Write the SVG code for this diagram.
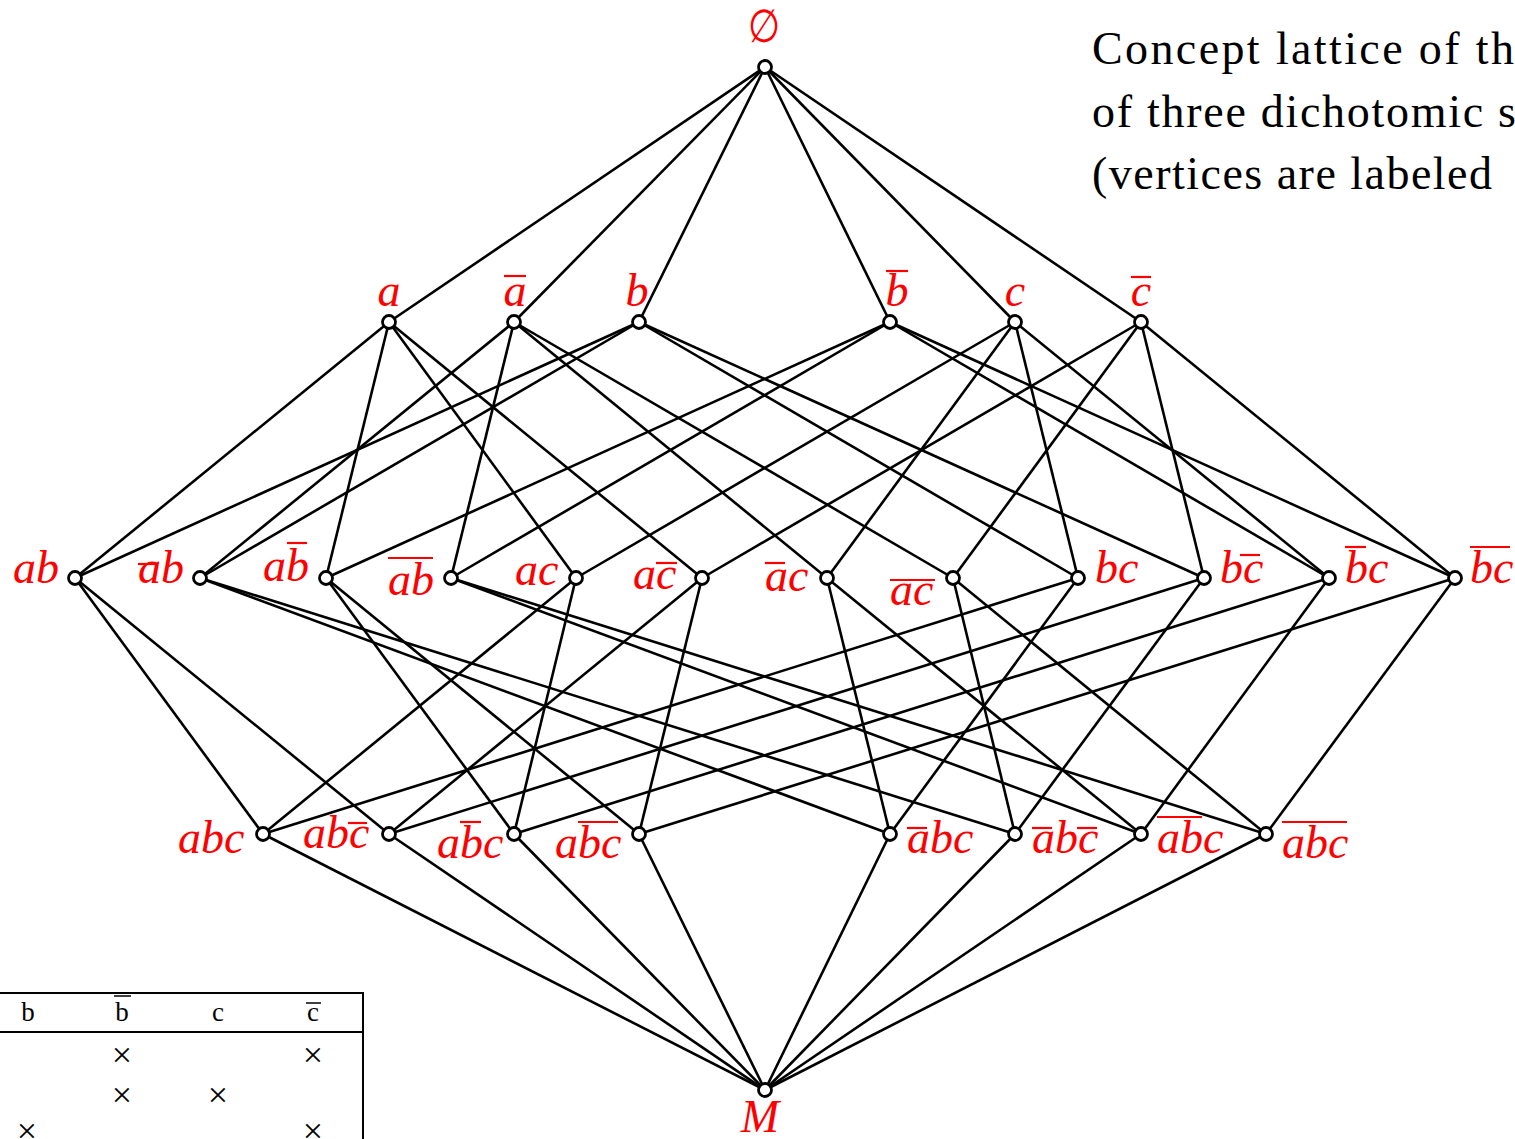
<svg xmlns="http://www.w3.org/2000/svg" width="1515" height="1139" viewBox="0 0 1515 1139">
<style>
.e{stroke:#000;stroke-width:2.6;fill:none}
.n{fill:#fff;stroke:#000;stroke-width:2.8}
.l{font-family:"Liberation Serif",serif;font-style:italic;font-size:46px;fill:#f00}
.ov{stroke:#f00;stroke-width:2.2}
.d{font-family:"Liberation Serif",serif;font-size:46px;fill:#000}
.t{font-family:"Liberation Serif",serif;font-size:27px;fill:#000;text-anchor:middle}
.x{font-family:"Liberation Serif",serif;font-size:36px;fill:#000;text-anchor:middle}
.tl{stroke:#000;stroke-width:2}
.ot{stroke:#000;stroke-width:1.5}
.m{text-anchor:middle}
</style>
<rect width="1515" height="1139" fill="#fff"/>
<g id="connectors" class="e">
<line x1="765" y1="67" x2="389" y2="322"/>
<line x1="765" y1="67" x2="514" y2="322"/>
<line x1="765" y1="67" x2="639" y2="322"/>
<line x1="765" y1="67" x2="890" y2="322"/>
<line x1="765" y1="67" x2="1015" y2="322"/>
<line x1="765" y1="67" x2="1141" y2="322"/>
<line x1="389" y1="322" x2="75" y2="578"/>
<line x1="389" y1="322" x2="326" y2="578"/>
<line x1="389" y1="322" x2="576" y2="578"/>
<line x1="389" y1="322" x2="702" y2="578"/>
<line x1="514" y1="322" x2="200" y2="578"/>
<line x1="514" y1="322" x2="451" y2="578"/>
<line x1="514" y1="322" x2="827" y2="578"/>
<line x1="514" y1="322" x2="953" y2="578"/>
<line x1="639" y1="322" x2="75" y2="578"/>
<line x1="639" y1="322" x2="200" y2="578"/>
<line x1="639" y1="322" x2="1078" y2="578"/>
<line x1="639" y1="322" x2="1204" y2="578"/>
<line x1="890" y1="322" x2="326" y2="578"/>
<line x1="890" y1="322" x2="451" y2="578"/>
<line x1="890" y1="322" x2="1329" y2="578"/>
<line x1="890" y1="322" x2="1455" y2="578"/>
<line x1="1015" y1="322" x2="576" y2="578"/>
<line x1="1015" y1="322" x2="827" y2="578"/>
<line x1="1015" y1="322" x2="1078" y2="578"/>
<line x1="1015" y1="322" x2="1329" y2="578"/>
<line x1="1141" y1="322" x2="702" y2="578"/>
<line x1="1141" y1="322" x2="953" y2="578"/>
<line x1="1141" y1="322" x2="1204" y2="578"/>
<line x1="1141" y1="322" x2="1455" y2="578"/>
<line x1="75" y1="578" x2="263" y2="834"/>
<line x1="75" y1="578" x2="389" y2="834"/>
<line x1="200" y1="578" x2="890" y2="834"/>
<line x1="200" y1="578" x2="1015" y2="834"/>
<line x1="326" y1="578" x2="514" y2="834"/>
<line x1="326" y1="578" x2="639" y2="834"/>
<line x1="451" y1="578" x2="1141" y2="834"/>
<line x1="451" y1="578" x2="1266" y2="834"/>
<line x1="576" y1="578" x2="263" y2="834"/>
<line x1="576" y1="578" x2="514" y2="834"/>
<line x1="702" y1="578" x2="389" y2="834"/>
<line x1="702" y1="578" x2="639" y2="834"/>
<line x1="827" y1="578" x2="890" y2="834"/>
<line x1="827" y1="578" x2="1141" y2="834"/>
<line x1="953" y1="578" x2="1015" y2="834"/>
<line x1="953" y1="578" x2="1266" y2="834"/>
<line x1="1078" y1="578" x2="263" y2="834"/>
<line x1="1078" y1="578" x2="890" y2="834"/>
<line x1="1204" y1="578" x2="389" y2="834"/>
<line x1="1204" y1="578" x2="1015" y2="834"/>
<line x1="1329" y1="578" x2="514" y2="834"/>
<line x1="1329" y1="578" x2="1141" y2="834"/>
<line x1="1455" y1="578" x2="639" y2="834"/>
<line x1="1455" y1="578" x2="1266" y2="834"/>
<line x1="263" y1="834" x2="765" y2="1090"/>
<line x1="389" y1="834" x2="765" y2="1090"/>
<line x1="514" y1="834" x2="765" y2="1090"/>
<line x1="639" y1="834" x2="765" y2="1090"/>
<line x1="890" y1="834" x2="765" y2="1090"/>
<line x1="1015" y1="834" x2="765" y2="1090"/>
<line x1="1141" y1="834" x2="765" y2="1090"/>
<line x1="1266" y1="834" x2="765" y2="1090"/>
</g>
<g id="n-empty"><circle class="n" cx="765" cy="67" r="6.5"/><text class="l m" x="764" y="42" style="font-style:normal;font-family:'DejaVu Serif',serif;font-size:46px" transform="translate(764 0) scale(0.8 1) translate(-764 0)">∅</text></g>
<g id="n-a"><circle class="n" cx="389" cy="322" r="6.5"/><text class="l m" x="389" y="306">a</text></g>
<g id="n-na"><circle class="n" cx="514" cy="322" r="6.5"/><text class="l m" x="515" y="306">a</text><line class="ov" x1="504" y1="276" x2="526" y2="276"/></g>
<g id="n-b"><circle class="n" cx="639" cy="322" r="6.5"/><text class="l m" x="637" y="306">b</text></g>
<g id="n-nb"><circle class="n" cx="890" cy="322" r="6.5"/><text class="l m" x="897" y="306">b</text><line class="ov" x1="886" y1="271" x2="908" y2="271"/></g>
<g id="n-c"><circle class="n" cx="1015" cy="322" r="6.5"/><text class="l m" x="1015" y="306">c</text></g>
<g id="n-nc"><circle class="n" cx="1141" cy="322" r="6.5"/><text class="l m" x="1141" y="306">c</text><line class="ov" x1="1131" y1="277" x2="1151" y2="277"/></g>
<g id="n-ab"><circle class="n" cx="75" cy="578" r="6.5"/><text class="l" x="13" y="583">ab</text></g>
<g id="n-nab"><circle class="n" cx="200" cy="578" r="6.5"/><text class="l" x="138" y="583">ab</text><line class="ov" x1="138" y1="564" x2="158" y2="564"/></g>
<g id="n-anb"><circle class="n" cx="326" cy="578" r="6.5"/><text class="l" x="263" y="581">ab</text><line class="ov" x1="287" y1="543" x2="307" y2="543"/></g>
<g id="n-nanb"><circle class="n" cx="451" cy="578" r="6.5"/><text class="l" x="388" y="595">ab</text><line class="ov" x1="388" y1="558" x2="433" y2="558"/></g>
<g id="n-ac"><circle class="n" cx="576" cy="578" r="6.5"/><text class="l" x="515" y="585">ac</text></g>
<g id="n-anc"><circle class="n" cx="702" cy="578" r="6.5"/><text class="l" x="633" y="589">ac</text><line class="ov" x1="656" y1="563" x2="677" y2="563"/></g>
<g id="n-nac"><circle class="n" cx="827" cy="578" r="6.5"/><text class="l" x="765" y="591">ac</text><line class="ov" x1="765" y1="563" x2="785" y2="563"/></g>
<g id="n-nanc"><circle class="n" cx="953" cy="578" r="6.5"/><text class="l" x="890" y="605">ac</text><line class="ov" x1="890" y1="580" x2="935" y2="580"/></g>
<g id="n-bc"><circle class="n" cx="1078" cy="578" r="6.5"/><text class="l" x="1095" y="583">bc</text></g>
<g id="n-bnc"><circle class="n" cx="1204" cy="578" r="6.5"/><text class="l" x="1220" y="583">bc</text><line class="ov" x1="1240" y1="555" x2="1260" y2="555"/></g>
<g id="n-nbc"><circle class="n" cx="1329" cy="578" r="6.5"/><text class="l" x="1345" y="583">bc</text><line class="ov" x1="1345" y1="547" x2="1366" y2="547"/></g>
<g id="n-nbnc"><circle class="n" cx="1455" cy="578" r="6.5"/><text class="l" x="1470" y="583">bc</text><line class="ov" x1="1470" y1="547" x2="1510" y2="547"/></g>
<g id="n-abc"><circle class="n" cx="263" cy="834" r="6.5"/><text class="l" x="178" y="853">abc</text></g>
<g id="n-abnc"><circle class="n" cx="389" cy="834" r="6.5"/><text class="l" x="303" y="848">abc</text><line class="ov" x1="348" y1="823" x2="367" y2="823"/></g>
<g id="n-anbc"><circle class="n" cx="514" cy="834" r="6.5"/><text class="l" x="437" y="858">abc</text><line class="ov" x1="460" y1="822" x2="481" y2="822"/></g>
<g id="n-anbnc"><circle class="n" cx="639" cy="834" r="6.5"/><text class="l" x="555" y="858">abc</text><line class="ov" x1="578" y1="822" x2="618" y2="822"/></g>
<g id="n-nabc"><circle class="n" cx="890" cy="834" r="6.5"/><text class="l" x="907" y="853">abc</text><line class="ov" x1="907" y1="828" x2="927" y2="828"/></g>
<g id="n-nabnc"><circle class="n" cx="1015" cy="834" r="6.5"/><text class="l" x="1032" y="853">abc</text><line class="ov" x1="1032" y1="828" x2="1052" y2="828"/><line class="ov" x1="1077" y1="828" x2="1097" y2="828"/></g>
<g id="n-nanbc"><circle class="n" cx="1141" cy="834" r="6.5"/><text class="l" x="1157" y="853">abc</text><line class="ov" x1="1157" y1="817" x2="1202" y2="817"/></g>
<g id="n-nanbnc"><circle class="n" cx="1266" cy="834" r="6.5"/><text class="l" x="1282" y="858">abc</text><line class="ov" x1="1282" y1="822" x2="1347" y2="822"/></g>
<g id="n-M"><circle class="n" cx="765" cy="1090" r="6.5"/><text class="l m" x="760" y="1132">M</text></g>
<g id="caption">
<text class="d" x="1092" y="64" textLength="422">Concept lattice of th</text>
<text class="d" x="1092" y="127" textLength="424">of three dichotomic s</text>
<text class="d" x="1092" y="189" textLength="400">(vertices are labeled</text>
</g>
<g id="table">
<line class="tl" x1="0" y1="993" x2="364" y2="993"/>
<line class="tl" x1="0" y1="1032" x2="364" y2="1032"/>
<line class="tl" x1="363" y1="993" x2="363" y2="1139"/>
<text class="t" x="28" y="1021">b</text>
<text class="t" x="122" y="1021">b</text><line class="ot" x1="114" y1="996" x2="131" y2="996"/>
<text class="t" x="218" y="1021">c</text>
<text class="t" x="313" y="1021">c</text><line class="ot" x1="306" y1="1003" x2="321" y2="1003"/>
<text class="x" x="122" y="1067">×</text>
<text class="x" x="313" y="1067">×</text>
<text class="x" x="122" y="1107">×</text>
<text class="x" x="218" y="1107">×</text>
<text class="x" x="27" y="1143">×</text>
<text class="x" x="313" y="1143">×</text>
</g>
</svg>
